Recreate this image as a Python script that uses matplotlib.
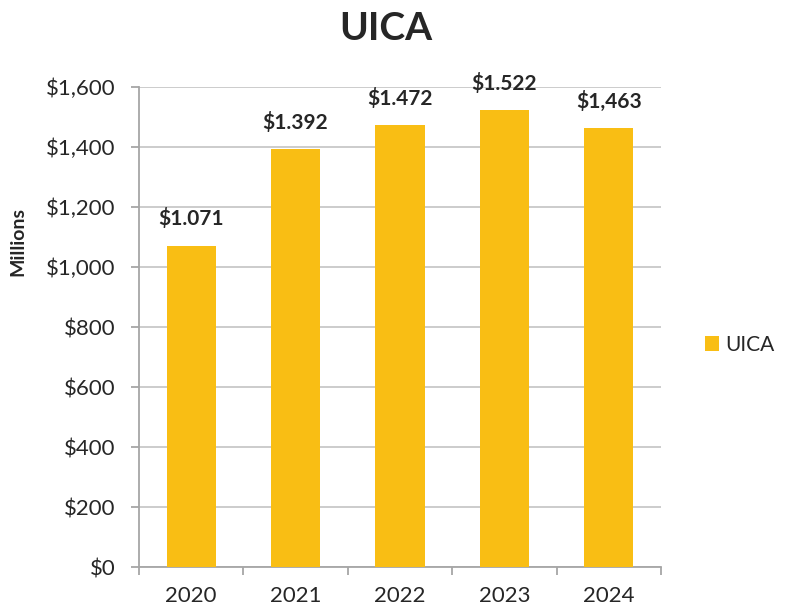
import matplotlib
matplotlib.use("Agg")
import matplotlib.pyplot as plt
from matplotlib.patches import Patch

years = ["2020", "2021", "2022", "2023", "2024"]
values = [1071, 1392, 1472, 1522, 1463]
labels = ["$1.071", "$1.392", "$1.472", "$1.522", "$1,463"]
yticks = [0, 200, 400, 600, 800, 1000, 1200, 1400, 1600]
ytick_labels = ["$0", "$200", "$400", "$600", "$800", "$1,000", "$1,200", "$1,400", "$1,600"]

plt.rcParams['font.family'] = ['Lato', 'DejaVu Sans']
bar_color = "#F9BE14"
text_color = "#262626"

fig = plt.figure(figsize=(7.87, 6.12), dpi=100)
ax = fig.add_axes([139/787, 1-567/612, (661-139)/787, (567-87)/612])

x = range(len(years))
ax.bar(x, values, width=0.47, color=bar_color, zorder=3)
for xi, v, lab in zip(x, values, labels):
    ax.text(xi, v + 55, lab, ha="center", va="bottom", fontsize=15,
            fontweight="bold", color=text_color)

ax.set_xlim(-0.5, len(years) - 0.5)
ax.set_ylim(0, 1600)
ax.set_yticks(yticks)
ax.set_yticklabels(ytick_labels, fontsize=16, color=text_color)
ax.set_xticks([i - 0.5 for i in range(len(years) + 1)], minor=False)
ax.set_xticklabels([])
ax.set_xticks(list(x), minor=True)
ax.set_xticklabels(years, minor=True, fontsize=16, color=text_color)
ax.tick_params(axis="x", which="major", length=6, color="#a6a6a6", width=1.3)
ax.tick_params(axis="x", which="minor", length=0, pad=14)
ax.tick_params(axis="y", length=6, color="#a6a6a6", width=1.3, pad=11)

ax.grid(axis="y", color="#c8c8c8", linewidth=1.3, zorder=0)
for s in ["top", "right"]:
    ax.spines[s].set_visible(False)
for s in ["left", "bottom"]:
    ax.spines[s].set_color("#a6a6a6")
    ax.spines[s].set_linewidth(1.3)

fig.text(18/787, 1 - 242/612, "Millions", rotation=90, ha="center", va="center",
         fontsize=14, fontweight="bold", color=text_color)
fig.text(386/787, 1 - 28/612, "UICA", ha="center", va="center",
         fontsize=28, fontweight="bold", color=text_color)

handle = Patch(facecolor=bar_color, edgecolor="none")
fig.legend([handle], ["UICA"], loc="center left", bbox_to_anchor=(686/787, 1 - 345/612),
           frameon=False, fontsize=15, handlelength=0.7, handleheight=0.7, handletextpad=0.3,
           labelcolor=text_color)

fig.savefig("out.png", dpi=100)
